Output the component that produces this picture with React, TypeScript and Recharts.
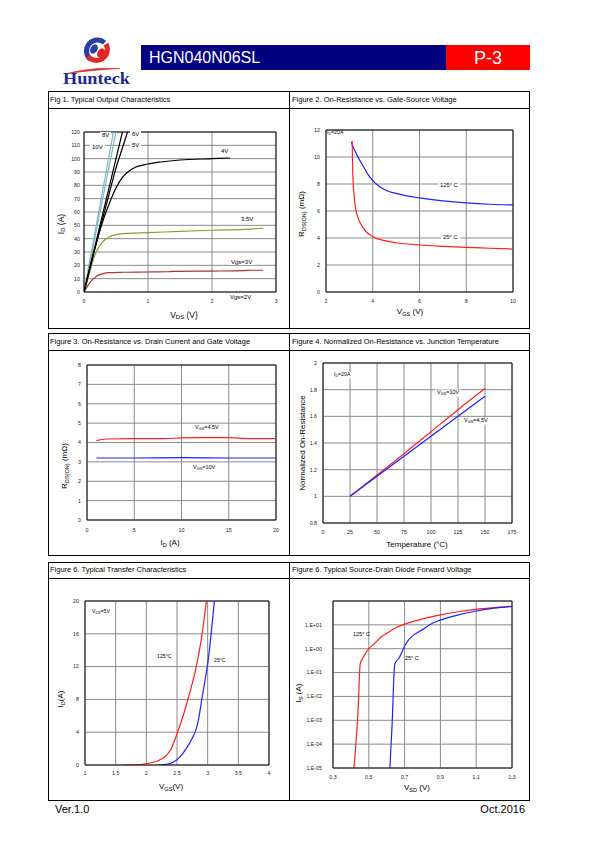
import type { ReactNode } from 'react'
import { LineChart, Line, XAxis, YAxis, CartesianGrid, ReferenceLine } from 'recharts'

// ─── Data ─────────────────────────────────────────────────────────────────────

// Fig 1 – output characteristics, [VDS (V), ID (A)]
const FIG1_VGS3 = [[0, 0], [0.05, 4], [0.1, 7.5], [0.15, 10], [0.2, 12], [0.3, 13.8], [0.4, 14.5], [0.6, 14.8], [1, 15], [1.3, 15.2], [1.4, 15.5], [2, 15.7], [2.5, 16], [2.6, 16.3], [2.8, 16.3]]
const FIG1_VGS35 = [[0, 0], [0.05, 8], [0.1, 17], [0.15, 25], [0.2, 31], [0.3, 38], [0.4, 41.5], [0.5, 43], [0.7, 44], [1, 44.5], [1.5, 45.5], [2, 46.3], [2.5, 47], [2.8, 47.8]]
const FIG1_VGS4 = [[0, 0], [0.1, 20], [0.2, 38], [0.3, 54], [0.4, 67], [0.5, 78], [0.6, 86], [0.7, 90.5], [0.8, 93.5], [1, 96], [1.2, 97.5], [1.5, 99], [2, 100], [2.28, 100.5]]
const FIG1_VGS5 = [[0, 0], [0.2, 38], [0.4, 75], [0.5, 93], [0.6, 108], [0.68, 120]]
const FIG1_VGS6 = [[0, 0], [0.2, 40], [0.4, 80], [0.6, 120]]
const FIG1_VGS8 = [[0, 0], [0.5, 120]]
const FIG1_VGS10 = [[0, 0], [0.46, 120]]
const FIG1_X_TICKS = [0, 1, 2, 3]
const FIG1_Y_TICKS = [0, 10, 20, 30, 40, 50, 60, 70, 80, 90, 100, 110, 120]

// Fig 2 – RDS(on) vs VGS, [VGS (V), mΩ]
const FIG2_125C = [[3.08, 11.1], [3.2, 10.6], [3.4, 9.9], [3.6, 9.3], [3.8, 8.7], [4, 8.25], [4.3, 7.8], [4.6, 7.5], [5, 7.3], [5.5, 7.1], [6, 6.97], [7, 6.75], [8, 6.6], [9, 6.5], [10, 6.45]]
const FIG2_25C = [[3.12, 11.2], [3.13, 10], [3.15, 8.6], [3.2, 7.2], [3.25, 6.4], [3.35, 5.6], [3.5, 5], [3.7, 4.5], [4, 4.1], [4.5, 3.8], [5, 3.65], [6, 3.48], [7, 3.38], [8, 3.3], [9, 3.24], [10, 3.18]]
const FIG2_X_TICKS = [2, 4, 6, 8, 10]
const FIG2_Y_TICKS = [0, 2, 4, 6, 8, 10, 12]

// Fig 3 – RDS(on) vs ID, [ID (A), mΩ]
const FIG3_VGS45 = [[1, 4.1], [2, 4.18], [5, 4.2], [8, 4.2], [10, 4.24], [12, 4.25], [15, 4.25], [17, 4.2], [20, 4.2]]
const FIG3_VGS10 = [[1, 3.2], [5, 3.2], [10, 3.22], [15, 3.2], [20, 3.2]]
const FIG3_X_TICKS = [0, 5, 10, 15, 20]
const FIG3_Y_TICKS = [0, 1, 2, 3, 4, 5, 6, 7, 8]

// Fig 4 – normalized RDS(on) vs Tj, [°C, ratio]
const FIG4_VGS10 = [[25, 1], [50, 1.16], [75, 1.32], [100, 1.485], [125, 1.65], [150, 1.81]]
const FIG4_VGS45 = [[25, 1], [50, 1.15], [75, 1.3], [100, 1.45], [125, 1.6], [150, 1.75]]
const FIG4_X_TICKS = [0, 25, 50, 75, 100, 125, 150, 175]
const FIG4_Y_TICKS = [0.8, 1, 1.2, 1.4, 1.6, 1.8, 2]

// Fig 5 – transfer characteristics, [VGS (V), ID (A)]
const FIG5_125C = [[1.6, 0], [1.8, 0.02], [2, 0.15], [2.1, 0.3], [2.2, 0.55], [2.3, 1], [2.4, 1.9], [2.5, 3.8], [2.6, 6], [2.7, 8.6], [2.8, 11.5], [2.9, 15.5], [2.98, 20]]
const FIG5_25C = [[2.2, 0], [2.35, 0.1], [2.45, 0.4], [2.55, 1], [2.65, 2], [2.75, 3.3], [2.8, 4.1], [2.85, 5.5], [2.9, 7.8], [2.95, 10], [3, 12.3], [3.05, 15.5], [3.11, 20]]
const FIG5_X_TICKS = [1, 1.5, 2, 2.5, 3, 3.5, 4]
const FIG5_Y_TICKS = [0, 4, 8, 12, 16, 20]

// Fig 6 – diode forward voltage, [VSD (V), log10 IS]
const FIG6_125C = [[0.417, -5], [0.44, -2.6], [0.452, -0.63], [0.47, -0.35], [0.5, 0], [0.53, 0.2], [0.57, 0.5], [0.6, 0.65], [0.65, 0.88], [0.7, 1.03], [0.8, 1.25], [0.9, 1.42], [1, 1.55], [1.1, 1.65], [1.2, 1.72], [1.3, 1.78]]
const FIG6_25C = [[0.618, -5], [0.63, -3.2], [0.645, -0.65], [0.67, -0.38], [0.7, 0.1], [0.72, 0.35], [0.75, 0.57], [0.8, 0.8], [0.85, 1.05], [0.9, 1.2], [1, 1.42], [1.1, 1.58], [1.2, 1.7], [1.3, 1.77]]
const FIG6_X_TICKS = [0.3, 0.5, 0.7, 0.9, 1.1, 1.3]
const FIG6_Y_TICKS = [1e-5, 1e-4, 1e-3, 1e-2, 1e-1, 1, 10, 100]

// ─── Style ────────────────────────────────────────────────────────────────────

const FONT = '"Liberation Sans", Arial, sans-serif'
const GRID = '#8a8a8a'
const RED = '#ff2020'
const BLUE = '#2020ff'
const BLACK = '#000'
const TEAL = '#7fb6c6'
const OLIVE = '#84a032'
const BROWN = '#b03030'

const toPts = (a: number[][]) => a.map(([x, y]) => ({ x, y }))
const toLogPts = (a: number[][]) => a.map(([x, y]) => [x, Math.pow(10, y)])

const fmtExp = (v: number) => {
  const e = Math.round(Math.log10(v))
  if (e === 2) return ''
  return `1.E${e < 0 ? '-' : '+'}${String(Math.abs(e)).padStart(2, '0')}`
}

// ─── Pieces ───────────────────────────────────────────────────────────────────

type Series = { data: number[][]; color: string }

function Plot(p: {
  box: [number, number, number, number]   // chart left, top, right, bottom on the page
  area: [number, number, number, number]  // plot left, top, right, bottom
  xDomain: [number, number]; xTicks: number[]
  yDomain: [number, number]; yTicks: number[]
  yLog?: boolean
  yFmt?: (v: number) => string
  xGap?: number; yGap?: number
  series: Series[]
}) {
  const [bl, bt, br, bb] = p.box
  const [pl, pt, pr, pb] = p.area
  const tick = { fontSize: 5.3, fill: '#222', fontFamily: FONT }
  const frame = '#111'
  return (
    <div style={{ position: 'absolute', left: bl, top: bt }}>
      <LineChart width={br - bl} height={bb - bt} margin={{ top: pt - bt, right: br - pr, left: 0, bottom: 0 }}>
        <CartesianGrid stroke={GRID} strokeWidth={1} />
        <XAxis type="number" dataKey="x" domain={p.xDomain} ticks={p.xTicks} interval={0}
          allowDataOverflow height={bb - pb} tickLine={false} tickSize={(p.xGap ?? 7) - 2} tickMargin={2}
          axisLine={{ stroke: frame }} tick={tick} />
        <YAxis type="number" domain={p.yDomain} ticks={p.yTicks} interval={0}
          scale={p.yLog ? 'log' : 'linear'} allowDataOverflow width={pl - bl}
          tickLine={false} tickSize={(p.yGap ?? 6) - 2} tickMargin={2}
          axisLine={{ stroke: frame }} tick={tick} tickFormatter={p.yFmt} />
        <ReferenceLine y={p.yDomain[1]} stroke={frame} />
        <ReferenceLine x={p.xDomain[1]} stroke={frame} />
        {p.series.map((s, i) => (
          <Line key={i} data={toPts(s.data)} dataKey="y" type="monotone" stroke={s.color}
            strokeWidth={1.2} dot={false} activeDot={false} isAnimationActive={false} />
        ))}
      </LineChart>
    </div>
  )
}

function Tx({ x, y, size = 5.5, align = 'left', rot, bg, color = '#000', children }: {
  x: number; y: number; size?: number; align?: 'left' | 'center' | 'right'
  rot?: boolean; bg?: boolean; color?: string; children: ReactNode
}) {
  const tx = align === 'left' ? '0' : align === 'right' ? '-100%' : '-50%'
  return (
    <div style={{
      position: 'absolute', left: x, top: y, whiteSpace: 'nowrap', lineHeight: 1,
      transform: `translate(${rot ? '-50%' : tx},-50%)${rot ? ' rotate(-90deg)' : ''}`,
      fontSize: size, color, background: bg ? '#fff' : undefined, padding: bg ? '0 2px' : undefined,
    }}>{children}</div>
  )
}

const Sub = ({ children }: { children: ReactNode }) => (
  <span style={{ fontSize: '0.7em', verticalAlign: '-0.3em' }}>{children}</span>
)

function Row({ top, sep, bottom }: { top: number; sep: number; bottom: number }) {
  return (
    <>
      <div style={{ position: 'absolute', left: 48, top, width: 482, height: bottom - top, border: '1px solid #000', boxSizing: 'border-box' }} />
      <div style={{ position: 'absolute', left: 48, top: sep, width: 482, height: 1, background: '#000' }} />
      <div style={{ position: 'absolute', left: 289, top, width: 1, height: bottom - top, background: '#000' }} />
    </>
  )
}

function Logo() {
  const cx = 37.5, cy = 15, r = 11
  const pt = (a: number) => `${cx + r * Math.cos(a * Math.PI / 180)} ${cy + r * Math.sin(a * Math.PI / 180)}`
  return (
    <svg width={80} height={56} style={{ position: 'absolute', left: 60, top: 36 }}>
      <path d={`M ${pt(-50)} A ${r} ${r} 0 0 0 ${pt(130)}`} stroke="#2c3fa8" strokeWidth={5} fill="none" />
      <path d={`M ${pt(-40)} A ${r} ${r} 0 0 1 ${pt(150)}`} stroke="#e02828" strokeWidth={5} fill="none" />
      <ellipse cx={34} cy={13} rx={3.5} ry={5} transform="rotate(30 34 13)" fill="#2c3fa8" />
      <ellipse cx={41} cy={17} rx={3.5} ry={5} transform="rotate(30 41 17)" fill="#e02828" />
      <path d="M 5 38 Q 30 31 60 32.5 Q 30 34 5 38 Z" fill="#e02828" stroke="#e02828" strokeWidth={0.6} />
      <text x={3} y={48} fontFamily='"Liberation Serif", serif' fontWeight="bold" fontSize={16}
        fill="#1c2c8c" textLength={67} lengthAdjust="spacingAndGlyphs">Hunteck</text>
    </svg>
  )
}

// ─── Page ─────────────────────────────────────────────────────────────────────

export default function App() {
  return (
    <div style={{ position: 'absolute', left: 0, top: 0, width: 595, height: 842, background: '#fff', fontFamily: FONT, color: '#000', overflow: 'hidden' }}>
      {/* Header */}
      <Logo />
      <div style={{ position: 'absolute', left: 141, top: 45, width: 305, height: 25, background: '#000080' }} />
      <div style={{ position: 'absolute', left: 446, top: 45, width: 84, height: 25, background: '#ff0000' }} />
      <Tx x={149} y={57.5} size={16} color="#fff">HGN040N06SL</Tx>
      <Tx x={488} y={57.5} size={18} align="center" color="#fff">P-3</Tx>

      {/* Frame */}
      <Row top={91} sep={107.5} bottom={329} />
      <Row top={333} sep={349.5} bottom={556} />
      <Row top={562} sep={577.5} bottom={801} />

      <Tx x={50} y={99.5} size={7.5}>Fig 1. Typical Output Characteristics</Tx>
      <Tx x={292} y={99.5} size={7.5}>Figure 2. On-Resistance vs. Gate-Source Voltage</Tx>
      <Tx x={50} y={341.5} size={7.5}>Figure 3. On-Resistance vs. Drain Current and Gate Voltage</Tx>
      <Tx x={292} y={341.5} size={7.5}>Figure 4. Normalized On-Resistance vs. Junction Temperature</Tx>
      <Tx x={50} y={570} size={7.5}>Figure 6. Typical Transfer Characteristics</Tx>
      <Tx x={292} y={570} size={7.5}>Figure 6. Typical Source-Drain Diode Forward Voltage</Tx>

      {/* Fig 1 */}
      <Plot box={[50, 110, 286, 326]} area={[84, 132, 276, 292]} xGap={7} yGap={4}
        xDomain={[0, 3]} xTicks={FIG1_X_TICKS} yDomain={[0, 120]} yTicks={FIG1_Y_TICKS}
        series={[
          { data: FIG1_VGS3, color: BROWN },
          { data: FIG1_VGS35, color: OLIVE },
          { data: FIG1_VGS10, color: TEAL },
          { data: FIG1_VGS8, color: TEAL },
          { data: FIG1_VGS4, color: BLACK },
          { data: FIG1_VGS6, color: BLACK },
          { data: FIG1_VGS5, color: BLACK },
        ]} />
      <Tx x={100} y={135} size={6} bg>8V</Tx>
      <Tx x={90} y={147} size={6} bg>10V</Tx>
      <Tx x={130} y={134} size={6} bg>6V</Tx>
      <Tx x={130} y={145} size={6} bg>5V</Tx>
      <Tx x={219} y={151} size={6} bg>4V</Tx>
      <Tx x={239} y={219} size={6} bg>3.5V</Tx>
      <Tx x={229} y={262} size={6} bg>Vgs=3V</Tx>
      <Tx x={228} y={297} size={6} bg>Vgs=2V</Tx>
      <Tx x={61.5} y={224} size={8.5} rot>I<Sub>D</Sub> (A)</Tx>
      <Tx x={184} y={316} size={8.5} align="center">V<Sub>DS</Sub> (V)</Tx>

      {/* Fig 2 */}
      <Plot box={[292, 110, 528, 326]} area={[326, 130, 513, 292]} xGap={7} yGap={6}
        xDomain={[2, 10]} xTicks={FIG2_X_TICKS} yDomain={[0, 12]} yTicks={FIG2_Y_TICKS}
        series={[
          { data: FIG2_125C, color: BLUE },
          { data: FIG2_25C, color: RED },
        ]} />
      <Tx x={327} y={133} size={5.2}>I<Sub>D</Sub>=20A</Tx>
      <Tx x={438} y={186} size={5.8} bg>125° C</Tx>
      <Tx x={441} y={238} size={5.8} bg>25° C</Tx>
      <Tx x={303} y={214} size={8} rot>R<Sub>DS(ON)</Sub> (mΩ)</Tx>
      <Tx x={410} y={313} size={8} align="center">V<Sub>GS</Sub> (V)</Tx>

      {/* Fig 3 */}
      <Plot box={[50, 352, 286, 554]} area={[87, 365, 276, 520]} xGap={8} yGap={6}
        xDomain={[0, 20]} xTicks={FIG3_X_TICKS} yDomain={[0, 8]} yTicks={FIG3_Y_TICKS}
        series={[
          { data: FIG3_VGS45, color: RED },
          { data: FIG3_VGS10, color: BLUE },
        ]} />
      <Tx x={195} y={428} size={5.5}>V<Sub>GS</Sub>=4.5V</Tx>
      <Tx x={193} y={468} size={5.5}>V<Sub>GS</Sub>=10V</Tx>
      <Tx x={65.5} y={466} size={8} rot>R<Sub>DS(ON)</Sub> (mΩ)</Tx>
      <Tx x={170} y={544} size={8} align="center">I<Sub>D</Sub> (A)</Tx>

      {/* Fig 4 */}
      <Plot box={[292, 352, 528, 554]} area={[323, 363, 512, 523]} xGap={7} yGap={6}
        xDomain={[0, 175]} xTicks={FIG4_X_TICKS} yDomain={[0.8, 2]} yTicks={FIG4_Y_TICKS}
        series={[
          { data: FIG4_VGS10, color: RED },
          { data: FIG4_VGS45, color: BLUE },
        ]} />
      <Tx x={332} y={375} size={5.2} bg>I<Sub>D</Sub>=20A</Tx>
      <Tx x={435} y={393} size={5.5} bg>V<Sub>GS</Sub>=10V</Tx>
      <Tx x={462} y={421} size={5.5} bg>V<Sub>GS</Sub>=4.5V</Tx>
      <Tx x={303} y={443} size={8} rot>Normalized On-Resistance</Tx>
      <Tx x={417} y={545} size={8} align="center">Temperature (°C)</Tx>

      {/* Fig 5 */}
      <Plot box={[50, 580, 286, 798]} area={[85, 601, 269, 765]} xGap={6} yGap={6}
        xDomain={[1, 4]} xTicks={FIG5_X_TICKS} yDomain={[0, 20]} yTicks={FIG5_Y_TICKS}
        series={[
          { data: FIG5_125C, color: RED },
          { data: FIG5_25C, color: BLUE },
        ]} />
      <Tx x={90} y={612} size={5.2} bg>V<Sub>DS</Sub>=5V</Tx>
      <Tx x={157} y={657} size={5.2}>125°C</Tx>
      <Tx x={214} y={661} size={5.2}>25°C</Tx>
      <Tx x={62} y={699} size={8} rot>I<Sub>D</Sub>(A)</Tx>
      <Tx x={171} y={788} size={8} align="center">V<Sub>GS</Sub>(V)</Tx>

      {/* Fig 6 */}
      <Plot box={[292, 580, 528, 798]} area={[333, 601, 512, 768]} xGap={7} yGap={11}
        xDomain={[0.3, 1.3]} xTicks={FIG6_X_TICKS} yDomain={[1e-5, 100]} yTicks={FIG6_Y_TICKS}
        yLog yFmt={fmtExp}
        series={[
          { data: toLogPts(FIG6_125C), color: RED },
          { data: toLogPts(FIG6_25C), color: BLUE },
        ]} />
      <Tx x={353} y={635} size={5.5}>125° C</Tx>
      <Tx x={405} y={659} size={5.5}>25° C</Tx>
      <Tx x={300} y={693} size={8} rot>I<Sub>S</Sub> (A)</Tx>
      <Tx x={417} y={789} size={8} align="center">V<Sub>SD</Sub> (V)</Tx>

      {/* Footer */}
      <Tx x={55} y={809} size={11}>Ver.1.0</Tx>
      <Tx x={525} y={809} size={11} align="right">Oct.2016</Tx>
    </div>
  )
}
